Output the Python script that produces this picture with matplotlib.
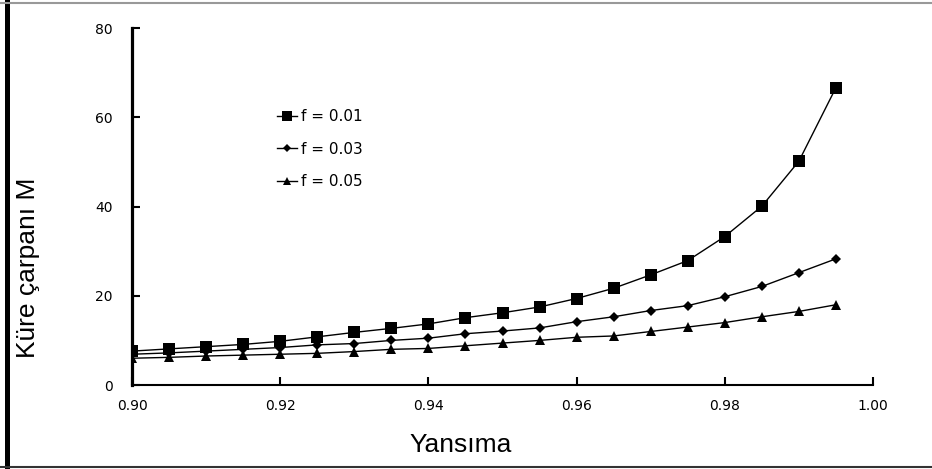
import matplotlib
matplotlib.use("Agg")
import matplotlib.pyplot as plt
from matplotlib.lines import Line2D

reflectance = [0.900, 0.905, 0.910, 0.915, 0.920, 0.925, 0.930, 0.935, 0.940, 0.945,
               0.950, 0.955, 0.960, 0.965, 0.970, 0.975, 0.980, 0.985, 0.990, 0.995]
m_f001 = [7.6, 8.1, 8.6, 9.1, 9.8, 10.8, 11.8, 12.7, 13.7, 15.1,
          16.2, 17.5, 19.4, 21.7, 24.7, 27.9, 33.3, 40.1, 50.2, 66.7]
m_f003 = [6.9, 7.2, 7.6, 8.0, 8.4, 9.0, 9.3, 10.0, 10.5, 11.5,
          12.1, 12.8, 14.2, 15.3, 16.7, 17.8, 19.8, 22.1, 25.2, 28.3]
m_f005 = [6.0, 6.2, 6.5, 6.7, 6.9, 7.1, 7.5, 8.0, 8.2, 8.8,
          9.4, 10.0, 10.7, 11.0, 12.0, 13.0, 14.0, 15.3, 16.5, 18.0]
series_labels = ["f = 0.01", "f = 0.03", "f = 0.05"]
x_ticks = [0.90, 0.92, 0.94, 0.96, 0.98, 1.00]
x_ticklabels = ["0.90", "0.92", "0.94", "0.96", "0.98", "1.00"]
y_ticks = [0, 20, 40, 60, 80]

plt.rcParams['font.family'] = ['Liberation Sans', 'DejaVu Sans']

W, H = 932, 469
fig = plt.figure(figsize=(W / 100, H / 100), dpi=100)
ax = fig.add_axes([132 / W, 1 - 385 / H, (873 - 132) / W, (385 - 28.3) / H])

ax.plot(reflectance, m_f001, color='black', lw=1.0, marker='s', markersize=9,
        markeredgewidth=0, label=series_labels[0])
ax.plot(reflectance, m_f003, color='black', lw=1.0, marker='D', markersize=5.5,
        markeredgewidth=0, label=series_labels[1])
ax.plot(reflectance, m_f005, color='black', lw=1.0, marker='^', markersize=7,
        markeredgewidth=0, label=series_labels[2])

ax.set_xlim(0.90, 1.00)
ax.set_ylim(0, 80)
ax.set_xticks(x_ticks)
ax.set_xticklabels(x_ticklabels)
ax.set_yticks(y_ticks)

for s in ['top', 'right']:
    ax.spines[s].set_visible(False)
ax.spines['left'].set_linewidth(2.3)
ax.spines['bottom'].set_linewidth(1.5)
ax.tick_params(axis='y', direction='in', length=6, width=1.5, pad=14, labelsize=10)
ax.tick_params(axis='x', direction='in', length=6, width=1.5, pad=10, labelsize=10)
for lab in ax.get_xticklabels() + ax.get_yticklabels():
    lab.set_family(['DejaVu Sans'])

fig.text(28 / W, 1 - 268 / H, "Küre çarpanı M", rotation=90, ha='center', va='center',
         fontsize=19)
fig.text(461 / W, 1 - 445 / H, "Yansıma", ha='center', va='center', fontsize=19)

leg = ax.legend(loc='upper left', bbox_to_anchor=(277 / W, 1 - 109 / H),
                bbox_transform=fig.transFigure, frameon=False,
                prop={'family': ['DejaVu Sans'], 'size': 11},
                handlelength=1.3, handletextpad=0.3, labelspacing=1.15,
                markerscale=0.8, borderaxespad=0, borderpad=0)

# outer frame lines
fig.add_artist(Line2D([6.5 / W, 6.5 / W], [0, 1 - 1 / H], transform=fig.transFigure,
                      color='black', lw=3.6))
fig.add_artist(Line2D([0, 1], [1 - 3 / H, 1 - 3 / H], transform=fig.transFigure,
                      color='#999999', lw=1.5))
fig.add_artist(Line2D([0, 1], [1 - 467 / H, 1 - 467 / H], transform=fig.transFigure,
                      color='#333333', lw=1.5))

fig.savefig("out.png", dpi=100)
